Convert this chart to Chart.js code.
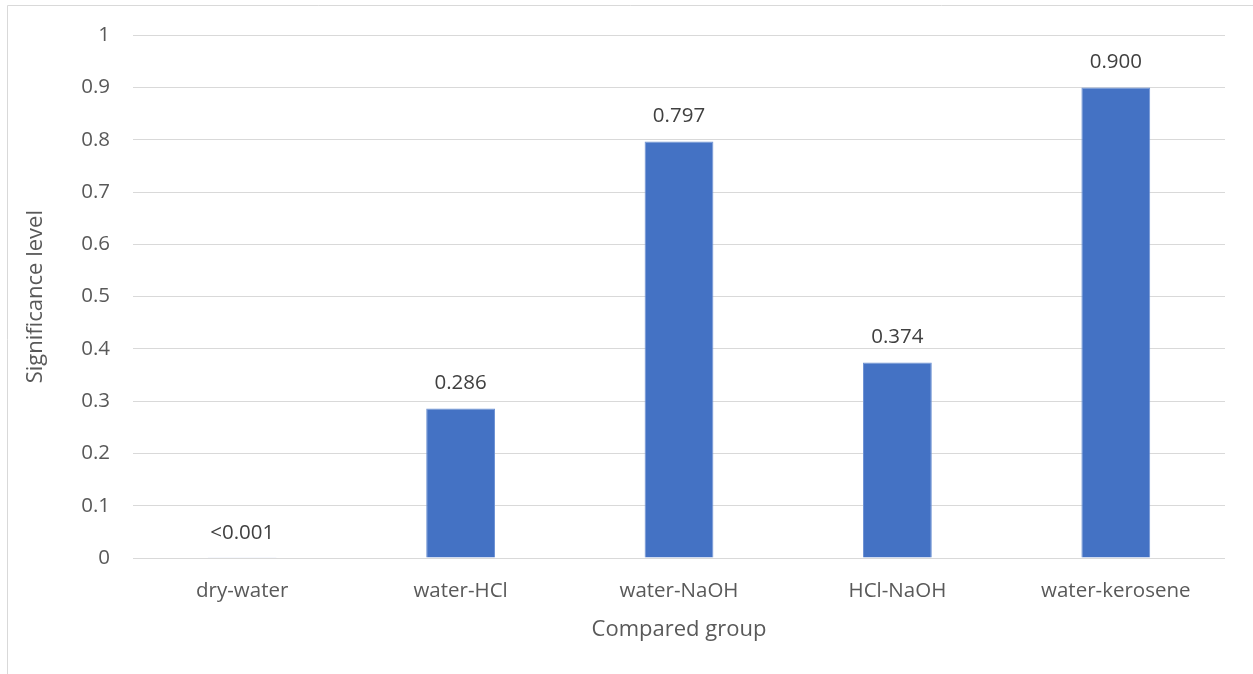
<!DOCTYPE html>
<html>
<head>
<meta charset="utf-8">
<script src="https://cdn.jsdelivr.net/npm/chart.js@4/dist/chart.umd.min.js"></script>
<style>
html,body{margin:0;padding:0;background:#fff;}
#wrap{position:relative;width:1253px;height:674px;}
</style>
</head>
<body>
<div id="wrap"><canvas id="c" width="1253" height="674"></canvas></div>
<script>
const categories = ["dry-water", "water-HCl", "water-NaOH", "HCl-NaOH", "water-kerosene"];
const values = [0.0005, 0.286, 0.797, 0.374, 0.900];
const valueLabels = ["<0.001", "0.286", "0.797", "0.374", "0.900"];
const yTicks = [0, 0.1, 0.2, 0.3, 0.4, 0.5, 0.6, 0.7, 0.8, 0.9, 1];

const FONT = "'Open Sans', sans-serif";
const TXT = "#595959";

const frame = {
  id: 'frame',
  beforeDraw(chart) {
    const ctx = chart.ctx;
    ctx.save();
    ctx.strokeStyle = '#d9d9d9';
    ctx.lineWidth = 1;
    ctx.beginPath();
    ctx.moveTo(7.5, 674);
    ctx.lineTo(7.5, 5.5);
    ctx.lineTo(1253, 5.5);
    ctx.stroke();
    ctx.restore();
  }
};

const dataLabels = {
  id: 'dataLabels',
  afterDatasetsDraw(chart) {
    const ctx = chart.ctx;
    const meta = chart.getDatasetMeta(0);
    ctx.save();
    ctx.font = "20.5px " + FONT;
    ctx.fillStyle = "#404040";
    ctx.textAlign = 'center';
    ctx.textBaseline = 'middle';
    meta.data.forEach((bar, i) => {
      ctx.fillText(valueLabels[i], bar.x, bar.y - 25);
    });
    ctx.restore();
  }
};

new Chart(document.getElementById('c'), {
  type: 'bar',
  data: {
    labels: categories,
    datasets: [{
      data: values,
      backgroundColor: '#4472C4',
      borderColor: '#6f93d4',
      borderWidth: 1,
      barPercentage: 0.315,
      categoryPercentage: 1.0
    }]
  },
  options: {
    responsive: false,
    animation: false,
    layout: { padding: { top: 34, right: 28, left: 0, bottom: 0 } },
    plugins: { legend: { display: false }, tooltip: { enabled: false } },
    scales: {
      x: {
        grid: { display: false, drawTicks: false },
        border: { display: false },
        ticks: { color: TXT, font: { family: FONT, size: 20.5 }, padding: 21 },
        title: { display: true, text: 'Compared group', color: TXT, font: { family: FONT, size: 22 }, padding: { bottom: 31 } },
        afterFit(s) { s.height = 116; }
      },
      y: {
        min: 0, max: 1,
        afterBuildTicks(s) { s.ticks = yTicks.map(v => ({ value: v })); },
        grid: { color: '#d9d9d9', lineWidth: 1, drawTicks: false },
        border: { display: false },
        ticks: {
          color: TXT, font: { family: FONT, size: 20.5 }, padding: 23,
          callback: v => String(Math.round(v * 10) / 10)
        },
        title: { display: true, text: 'Significance level', color: TXT, font: { family: FONT, size: 22 }, padding: { top: 23 } },
        afterFit(s) { s.width = 133; }
      }
    }
  },
  plugins: [frame, dataLabels]
});
</script>
</body>
</html>
